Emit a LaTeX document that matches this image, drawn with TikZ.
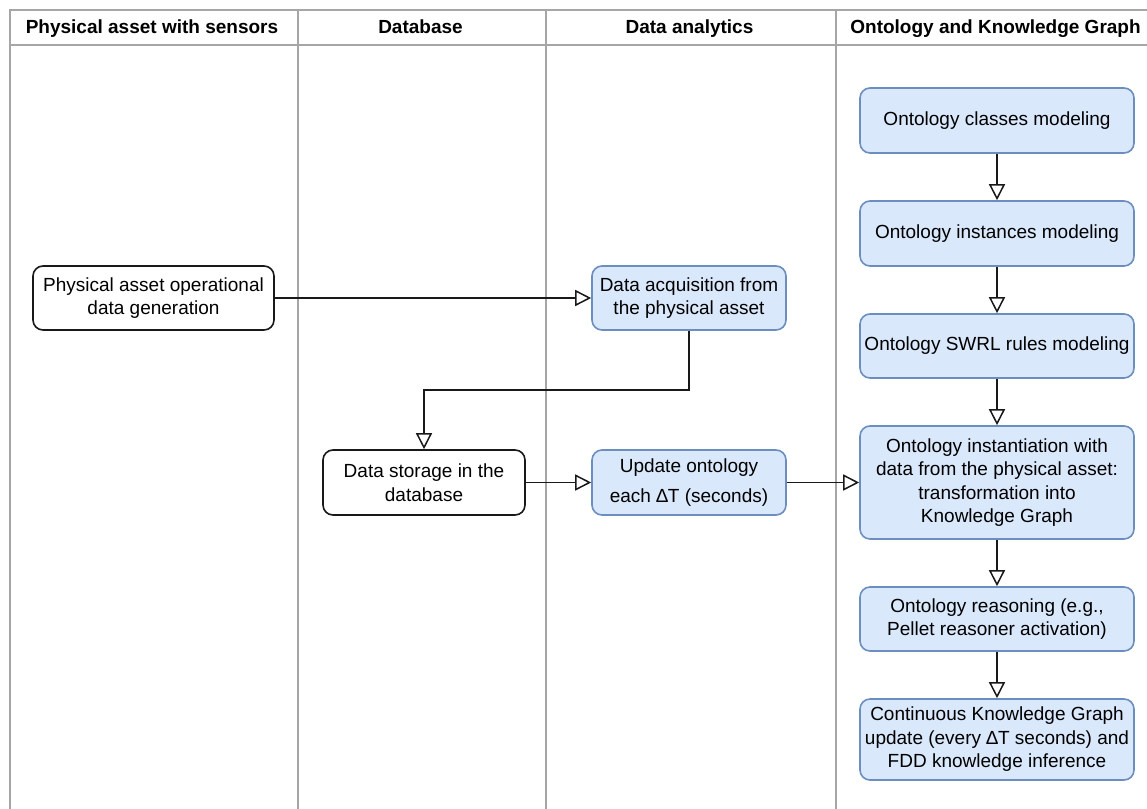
\documentclass[tikz,border=0pt]{standalone}
\usepackage{fontspec}
\setmainfont{Liberation Sans}
\usetikzlibrary{arrows.meta}
\definecolor{lanegray}{HTML}{A6A6A6}
\definecolor{bluefill}{HTML}{DAE8FC}
\definecolor{blueline}{HTML}{6C8EBF}
\tikzset{
  lane/.style={draw=lanegray, line width=1.5pt},
  hdr/.style={font=\fontsize{19}{22}\selectfont\bfseries, inner sep=0pt, anchor=base},
  box/.style={rounded corners=10pt, inner sep=0pt, align=center,
    font=\fontsize{19}{23.5}\selectfont, line width=1.6pt},
  plainbox/.style={box, draw=black!90, fill=white},
  bluebox/.style={box, draw=blueline, fill=bluefill},
  flow/.style={draw=black!90, line width=1.7pt,
    -{Triangle[open, length=16pt, width=16pt, line width=1.5pt]}},
}
\begin{document}
\begin{tikzpicture}[x=1pt, y=-1pt]
\useasboundingbox (0,0) rectangle (1147,808);
\fill[white] (0,0) rectangle (1147,808);
\clip (0,0) rectangle (1147,808);
% lanes
\draw[lane] (1160,10) -- (10,10) -- (10,820);
\draw[lane] (10,45) -- (1160,45);
\draw[lane] (298,10) -- (298,820);
\draw[lane] (546,10) -- (546,820);
\draw[lane] (836,10) -- (836,820);
% headers
\node[hdr] (h1) at (152,33.5) {Physical asset with sensors};
\node[hdr] (h2) at (420.5,33.5) {Database};
\node[hdr] (h3) at (689.5,33.5) {Data analytics};
\node[hdr] (h4) at (995.5,33.5) {Ontology and Knowledge Graph};
% nodes
\node[plainbox, minimum width=241pt, minimum height=64pt] (gen) at (153.5,298)
  {Physical asset operational\\data generation};
\node[bluebox, minimum width=194pt, minimum height=64pt] (acq) at (689,298)
  {Data acquisition from\\the physical asset};
\node[plainbox, minimum width=202pt, minimum height=65pt] (store) at (424,482.5)
  {Data storage in the\\database};
\node[bluebox, minimum width=194pt, minimum height=65pt] (upd) at (689,482.5)
  {Update ontology\\[7pt]each ∆T (seconds)};
\node[bluebox, minimum width=274pt, minimum height=65pt] (cls) at (997,120.5)
  {Ontology classes modeling};
\node[bluebox, minimum width=274pt, minimum height=65pt] (ins) at (997,233.5)
  {Ontology instances modeling};
\node[bluebox, minimum width=274pt, minimum height=64pt] (swrl) at (997,346)
  {Ontology SWRL rules modeling};
\node[bluebox, minimum width=274pt, minimum height=113pt] (inst) at (997,482.5)
  {Ontology instantiation with\\data from the physical asset:\\transformation into\\Knowledge Graph};
\node[bluebox, minimum width=274pt, minimum height=64pt] (rea) at (997,619)
  {Ontology reasoning (e.g.,\\Pellet reasoner activation)};
\node[bluebox, minimum width=274pt, minimum height=81pt] (cont) at (997,739.5)
  {Continuous Knowledge Graph\\update (every ∆T seconds) and\\FDD knowledge inference};
% connectors
\coordinate (bend) at (424,390);
\draw[flow] (gen.east) -- (acq.west);
\draw[flow] (acq.south) |- (bend) -- (store.north);
\draw[flow] (store.east) -- (upd.west);
\draw[flow] (upd.east) -- (inst.west);
\draw[flow] (cls.south) -- (ins.north);
\draw[flow] (ins.south) -- (swrl.north);
\draw[flow] (swrl.south) -- (inst.north);
\draw[flow] (inst.south) -- (rea.north);
\draw[flow] (rea.south) -- (cont.north);
\end{tikzpicture}
\end{document}
